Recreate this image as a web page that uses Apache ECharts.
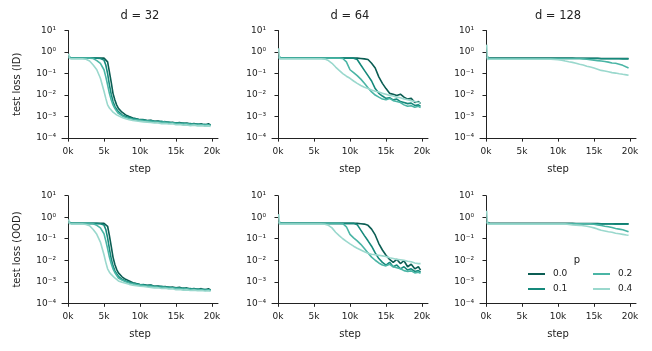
<!DOCTYPE html>
<html>
<head>
<meta charset="utf-8">
<script src="https://cdn.jsdelivr.net/npm/echarts@6/dist/echarts.min.js"></script>
<style>
html, body { margin: 0; padding: 0; background: #fff; }
#chart { width: 652px; height: 351px; }
</style>
</head>
<body>
<div id="chart"></div>
<script>
// training steps shared by every curve
const steps = [100, 200, 500, 1000, 1500, 2000, 2500, 3000, 3500, 4000,
  4500, 5000, 5250, 5500, 5750, 6000, 6250, 6500, 6750, 7000,
  7500, 8000, 8500, 9000, 9500, 10000, 10500, 11000, 11500, 12000,
  12500, 13000, 13500, 14000, 14500, 15000, 15500, 16000, 16500, 17000,
  17500, 18000, 18500, 19000, 19500, 19800];

const pLabels = ["0.0", "0.1", "0.2", "0.4"];
const panelTitles = ["d = 32", "d = 64", "d = 128"];
const rowNames = ["test loss (ID)", "test loss (OOD)"];
const xTicks = [0, 5000, 10000, 15000, 20000];
const yTicks = [1e-4, 1e-3, 1e-2, 1e-1, 1, 10];

// ---- d = 32, ID
const d32_id_p00 = [0.6, 0.52, 0.52, 0.52, 0.52, 0.52, 0.52, 0.52, 0.52, 0.52,
  0.52, 0.52, 0.5, 0.35, 0.12, 0.04, 0.012, 0.006, 0.0035, 0.0024,
  0.0016, 0.0012, 0.001, 0.00085, 0.0008, 0.00072, 0.0007, 0.00066, 0.00068, 0.0006,
  0.00062, 0.00056, 0.00058, 0.00052, 0.00055, 0.0005, 0.00053, 0.00047, 0.0005, 0.00045,
  0.00047, 0.00043, 0.00046, 0.0004, 0.00046, 0.00041];
const d32_id_p01 = [0.55, 0.52, 0.52, 0.52, 0.52, 0.52, 0.52, 0.52, 0.52, 0.52,
  0.5, 0.42, 0.25, 0.1, 0.03, 0.011, 0.005, 0.003, 0.0022, 0.0017,
  0.0012, 0.001, 0.0009, 0.0008, 0.00078, 0.0007, 0.00072, 0.00064, 0.00066, 0.0006,
  0.00058, 0.0006, 0.00054, 0.00056, 0.0005, 0.00052, 0.00048, 0.0005, 0.00046, 0.00048,
  0.00044, 0.00045, 0.00042, 0.00044, 0.0004, 0.00042];
const d32_id_p02 = [0.6, 0.52, 0.52, 0.52, 0.52, 0.52, 0.52, 0.52, 0.5, 0.4,
  0.3, 0.15, 0.07, 0.03, 0.012, 0.006, 0.0035, 0.0024, 0.0018, 0.0014,
  0.0011, 0.0009, 0.00082, 0.00075, 0.0007, 0.00068, 0.00064, 0.00062, 0.0006, 0.00058,
  0.00056, 0.00054, 0.00055, 0.0005, 0.00052, 0.00048, 0.00049, 0.00045, 0.00047, 0.00043,
  0.00044, 0.00041, 0.00043, 0.0004, 0.00041, 0.00039];
const d32_id_p04 = [0.85, 0.5, 0.48, 0.48, 0.48, 0.48, 0.46, 0.38, 0.25, 0.15,
  0.06, 0.015, 0.007, 0.0035, 0.0025, 0.002, 0.0016, 0.0014, 0.0012, 0.001,
  0.0009, 0.0008, 0.00072, 0.00066, 0.00062, 0.0006, 0.00057, 0.00055, 0.00053, 0.0005,
  0.00051, 0.00047, 0.00048, 0.00045, 0.00046, 0.00042, 0.00043, 0.0004, 0.00041, 0.00038,
  0.0004, 0.00037, 0.00038, 0.00036, 0.00037, 0.00035];

// ---- d = 32, OOD
const d32_ood_p00 = [0.6, 0.52, 0.52, 0.52, 0.52, 0.52, 0.52, 0.52, 0.52, 0.52,
  0.52, 0.52, 0.5, 0.38, 0.14, 0.045, 0.014, 0.0065, 0.0038, 0.0026,
  0.0017, 0.0013, 0.0011, 0.0009, 0.00082, 0.00075, 0.00072, 0.00068, 0.0007, 0.00062,
  0.00064, 0.00058, 0.0006, 0.00054, 0.00057, 0.00052, 0.00055, 0.00048, 0.00052, 0.00046,
  0.00049, 0.00044, 0.00048, 0.00041, 0.00047, 0.00042];
const d32_ood_p01 = [0.55, 0.52, 0.52, 0.52, 0.52, 0.52, 0.52, 0.52, 0.52, 0.52,
  0.5, 0.43, 0.27, 0.11, 0.035, 0.012, 0.0055, 0.0033, 0.0024, 0.0018,
  0.0013, 0.0011, 0.00095, 0.00085, 0.0008, 0.00072, 0.00074, 0.00066, 0.00068, 0.00061,
  0.0006, 0.00062, 0.00055, 0.00057, 0.00051, 0.00053, 0.00049, 0.00051, 0.00047, 0.00049,
  0.00045, 0.00046, 0.00043, 0.00045, 0.00041, 0.00043];
const d32_ood_p02 = [0.6, 0.52, 0.52, 0.52, 0.52, 0.52, 0.52, 0.52, 0.5, 0.42,
  0.32, 0.17, 0.08, 0.035, 0.014, 0.007, 0.004, 0.0027, 0.002, 0.0015,
  0.0012, 0.001, 0.00088, 0.0008, 0.00074, 0.0007, 0.00066, 0.00064, 0.00062, 0.0006,
  0.00057, 0.00055, 0.00056, 0.00051, 0.00053, 0.00049, 0.0005, 0.00046, 0.00048, 0.00044,
  0.00045, 0.00042, 0.00044, 0.0004, 0.00042, 0.0004];
const d32_ood_p04 = [0.8, 0.5, 0.48, 0.48, 0.48, 0.48, 0.46, 0.4, 0.27, 0.16,
  0.07, 0.018, 0.008, 0.004, 0.0028, 0.0022, 0.0018, 0.0015, 0.0013, 0.0011,
  0.00095, 0.00085, 0.00076, 0.0007, 0.00065, 0.00062, 0.0006, 0.00057, 0.00055, 0.00052,
  0.00053, 0.00049, 0.0005, 0.00046, 0.00047, 0.00043, 0.00044, 0.00041, 0.00042, 0.00039,
  0.00041, 0.00038, 0.00039, 0.00037, 0.00038, 0.00036];

// ---- d = 64, ID
const d64_id_p00 = [0.6, 0.52, 0.52, 0.52, 0.52, 0.52, 0.52, 0.52, 0.52, 0.52,
  0.52, 0.52, 0.52, 0.52, 0.52, 0.52, 0.52, 0.52, 0.52, 0.52,
  0.52, 0.52, 0.52, 0.52, 0.52, 0.52, 0.52, 0.52, 0.5, 0.48,
  0.45, 0.3, 0.18, 0.07, 0.035, 0.02, 0.012, 0.011, 0.0095, 0.011,
  0.008, 0.0065, 0.007, 0.0045, 0.005, 0.004];
const d64_id_p01 = [0.55, 0.52, 0.52, 0.52, 0.52, 0.52, 0.52, 0.52, 0.52, 0.52,
  0.52, 0.52, 0.52, 0.52, 0.52, 0.52, 0.52, 0.52, 0.52, 0.52,
  0.52, 0.52, 0.52, 0.52, 0.52, 0.52, 0.52, 0.45, 0.25, 0.14,
  0.08, 0.045, 0.02, 0.012, 0.009, 0.007, 0.0075, 0.006, 0.0065, 0.005,
  0.0045, 0.004, 0.0042, 0.0033, 0.0035, 0.003];
const d64_id_p02 = [0.6, 0.52, 0.52, 0.52, 0.52, 0.52, 0.52, 0.52, 0.52, 0.52,
  0.52, 0.52, 0.52, 0.52, 0.52, 0.52, 0.52, 0.52, 0.52, 0.52,
  0.52, 0.52, 0.52, 0.5, 0.35, 0.15, 0.11, 0.08, 0.055, 0.035,
  0.022, 0.014, 0.01, 0.008, 0.0065, 0.006, 0.007, 0.0055, 0.005, 0.0045,
  0.0035, 0.003, 0.0032, 0.0027, 0.003, 0.0026];
const d64_id_p04 = [1.5, 0.48, 0.48, 0.48, 0.48, 0.48, 0.48, 0.48, 0.48, 0.48,
  0.48, 0.48, 0.48, 0.48, 0.48, 0.48, 0.48, 0.47, 0.44, 0.4,
  0.3, 0.2, 0.14, 0.1, 0.075, 0.06, 0.045, 0.035, 0.028, 0.023,
  0.02, 0.017, 0.015, 0.014, 0.012, 0.011, 0.0095, 0.009, 0.008, 0.0075,
  0.0065, 0.006, 0.0055, 0.005, 0.0045, 0.0042];

// ---- d = 64, OOD
const d64_ood_p00 = [0.6, 0.52, 0.52, 0.52, 0.52, 0.52, 0.52, 0.52, 0.52, 0.52,
  0.52, 0.52, 0.52, 0.52, 0.52, 0.52, 0.52, 0.52, 0.52, 0.52,
  0.52, 0.52, 0.52, 0.52, 0.52, 0.52, 0.52, 0.52, 0.5, 0.48,
  0.42, 0.28, 0.15, 0.06, 0.03, 0.017, 0.011, 0.008, 0.011, 0.007,
  0.0095, 0.005, 0.0065, 0.004, 0.005, 0.0035];
const d64_ood_p01 = [0.55, 0.52, 0.52, 0.52, 0.52, 0.52, 0.52, 0.52, 0.52, 0.52,
  0.52, 0.52, 0.52, 0.52, 0.52, 0.52, 0.52, 0.52, 0.52, 0.52,
  0.52, 0.52, 0.52, 0.52, 0.52, 0.52, 0.52, 0.45, 0.25, 0.14,
  0.08, 0.045, 0.022, 0.012, 0.008, 0.006, 0.008, 0.005, 0.006, 0.004,
  0.005, 0.0035, 0.004, 0.003, 0.0033, 0.0028];
const d64_ood_p02 = [0.6, 0.52, 0.52, 0.52, 0.52, 0.52, 0.52, 0.52, 0.52, 0.52,
  0.52, 0.52, 0.52, 0.52, 0.52, 0.52, 0.52, 0.52, 0.52, 0.52,
  0.52, 0.52, 0.52, 0.5, 0.36, 0.16, 0.11, 0.08, 0.055, 0.035,
  0.022, 0.014, 0.01, 0.0075, 0.006, 0.0055, 0.0065, 0.005, 0.0045, 0.004,
  0.0033, 0.003, 0.0032, 0.0026, 0.0028, 0.0025];
const d64_ood_p04 = [1.4, 0.48, 0.48, 0.48, 0.48, 0.48, 0.48, 0.48, 0.48, 0.48,
  0.48, 0.48, 0.48, 0.48, 0.48, 0.48, 0.48, 0.47, 0.44, 0.42,
  0.32, 0.2, 0.14, 0.1, 0.075, 0.058, 0.045, 0.036, 0.03, 0.025,
  0.021, 0.019, 0.018, 0.017, 0.016, 0.015, 0.013, 0.012, 0.011, 0.0105,
  0.01, 0.009, 0.0085, 0.0075, 0.007, 0.007];

// ---- d = 128, ID
const d128_id_p00 = [0.6, 0.52, 0.52, 0.52, 0.52, 0.52, 0.52, 0.52, 0.52, 0.52,
  0.52, 0.52, 0.52, 0.52, 0.52, 0.52, 0.52, 0.52, 0.52, 0.52,
  0.52, 0.52, 0.52, 0.52, 0.52, 0.52, 0.52, 0.52, 0.52, 0.52,
  0.51, 0.51, 0.51, 0.51, 0.51, 0.51, 0.51, 0.5, 0.5, 0.5,
  0.5, 0.5, 0.5, 0.5, 0.5, 0.5];
const d128_id_p01 = [0.55, 0.5, 0.5, 0.5, 0.5, 0.5, 0.5, 0.5, 0.5, 0.5,
  0.5, 0.5, 0.5, 0.5, 0.5, 0.5, 0.5, 0.5, 0.5, 0.5,
  0.5, 0.5, 0.5, 0.5, 0.5, 0.5, 0.5, 0.5, 0.5, 0.5,
  0.5, 0.5, 0.5, 0.5, 0.5, 0.5, 0.5, 0.49, 0.49, 0.49,
  0.49, 0.49, 0.49, 0.48, 0.48, 0.48];
const d128_id_p02 = [0.6, 0.5, 0.5, 0.5, 0.5, 0.5, 0.5, 0.5, 0.5, 0.5,
  0.5, 0.5, 0.5, 0.5, 0.5, 0.5, 0.5, 0.5, 0.5, 0.5,
  0.5, 0.5, 0.5, 0.5, 0.5, 0.5, 0.5, 0.5, 0.5, 0.5,
  0.5, 0.5, 0.48, 0.46, 0.44, 0.42, 0.4, 0.38, 0.36, 0.34,
  0.31, 0.3, 0.27, 0.24, 0.2, 0.18];
const d128_id_p04 = [2.2, 0.45, 0.46, 0.46, 0.46, 0.46, 0.46, 0.46, 0.46, 0.46,
  0.46, 0.46, 0.46, 0.46, 0.46, 0.46, 0.46, 0.46, 0.46, 0.46,
  0.46, 0.46, 0.46, 0.46, 0.45, 0.44, 0.42, 0.38, 0.35, 0.33,
  0.3, 0.27, 0.25, 0.22, 0.2, 0.18, 0.16, 0.14, 0.13, 0.12,
  0.11, 0.105, 0.098, 0.092, 0.087, 0.083];

// ---- d = 128, OOD
const d128_ood_p00 = [0.6, 0.52, 0.52, 0.52, 0.52, 0.52, 0.52, 0.52, 0.52, 0.52,
  0.52, 0.52, 0.52, 0.52, 0.52, 0.52, 0.52, 0.52, 0.52, 0.52,
  0.52, 0.52, 0.52, 0.52, 0.52, 0.52, 0.52, 0.52, 0.52, 0.52,
  0.51, 0.51, 0.51, 0.51, 0.51, 0.51, 0.51, 0.5, 0.5, 0.5,
  0.5, 0.5, 0.5, 0.5, 0.5, 0.5];
const d128_ood_p01 = [0.55, 0.5, 0.5, 0.5, 0.5, 0.5, 0.5, 0.5, 0.5, 0.5,
  0.5, 0.5, 0.5, 0.5, 0.5, 0.5, 0.5, 0.5, 0.5, 0.5,
  0.5, 0.5, 0.5, 0.5, 0.5, 0.5, 0.5, 0.5, 0.5, 0.5,
  0.5, 0.5, 0.5, 0.5, 0.5, 0.5, 0.49, 0.49, 0.49, 0.49,
  0.49, 0.48, 0.48, 0.48, 0.48, 0.48];
const d128_ood_p02 = [0.6, 0.5, 0.5, 0.5, 0.5, 0.5, 0.5, 0.5, 0.5, 0.5,
  0.5, 0.5, 0.5, 0.5, 0.5, 0.5, 0.5, 0.5, 0.5, 0.5,
  0.5, 0.5, 0.5, 0.5, 0.5, 0.5, 0.5, 0.5, 0.5, 0.5,
  0.5, 0.5, 0.5, 0.5, 0.5, 0.47, 0.44, 0.41, 0.38, 0.36,
  0.33, 0.3, 0.28, 0.26, 0.23, 0.21];
const d128_ood_p04 = [2.0, 0.48, 0.48, 0.48, 0.48, 0.48, 0.48, 0.48, 0.48, 0.48,
  0.48, 0.48, 0.48, 0.48, 0.48, 0.48, 0.48, 0.48, 0.48, 0.48,
  0.48, 0.48, 0.48, 0.48, 0.48, 0.48, 0.48, 0.48, 0.46, 0.44,
  0.43, 0.42, 0.4, 0.38, 0.35, 0.32, 0.28, 0.25, 0.23, 0.21,
  0.2, 0.18, 0.17, 0.16, 0.15, 0.145];

const colors = ["#0b5d53", "#15897b", "#4ab5a5", "#9ad8cd"];
const font = "DejaVu Sans";

// [row][col] -> four curves in p order
const panels = [
  [[d32_id_p00, d32_id_p01, d32_id_p02, d32_id_p04],
   [d64_id_p00, d64_id_p01, d64_id_p02, d64_id_p04],
   [d128_id_p00, d128_id_p01, d128_id_p02, d128_id_p04]],
  [[d32_ood_p00, d32_ood_p01, d32_ood_p02, d32_ood_p04],
   [d64_ood_p00, d64_ood_p01, d64_ood_p02, d64_ood_p04],
   [d128_ood_p00, d128_ood_p01, d128_ood_p02, d128_ood_p04]]
];

const gridLefts = [62, 272, 480];
const gridTops = [30.5, 195.7];
const gridW = 156, gridH = 107.6;

const supMap = { "-": "\u207B", "0": "\u2070", "1": "\u00B9", "2": "\u00B2", "3": "\u00B3", "4": "\u2074" };
const logLabel = v => "10" + String(Math.round(Math.log10(v))).split("").map(c => supMap[c]).join("");

const grids = [], xAxes = [], yAxes = [], series = [], titles = [];

panels.forEach((row, r) => {
  row.forEach((curves, c) => {
    const idx = grids.length;
    grids.push({ left: gridLefts[c], top: gridTops[r], width: gridW, height: gridH });
    xAxes.push({
      type: "value", gridIndex: idx, min: -833, max: 20833,
      name: "step", nameLocation: "middle", nameGap: 26,
      nameTextStyle: { fontFamily: font, fontSize: 10, color: "#222" },
      axisLine: { lineStyle: { color: "#222", width: 1 } },
      axisTick: { length: 3.5, lineStyle: { color: "#222" }, customValues: xTicks },
      axisLabel: { fontFamily: font, fontSize: 9, color: "#222", margin: 9,
        customValues: xTicks, formatter: v => (v / 1000) + "k" },
      splitLine: { show: false }
    });
    yAxes.push({
      type: "log", logBase: 10, gridIndex: idx, min: 1e-4, max: 10,
      name: c === 0 ? rowNames[r] : "", nameLocation: "middle", nameGap: 40,
      nameTextStyle: { fontFamily: font, fontSize: 10, color: "#222" },
      axisLine: { show: true, lineStyle: { color: "#222", width: 1 } },
      axisTick: { show: true, length: 3.5, lineStyle: { color: "#222" }, customValues: yTicks },
      minorTick: { show: false },
      axisLabel: { fontFamily: font, fontSize: 9, color: "#222", margin: 6,
        customValues: yTicks, formatter: logLabel },
      splitLine: { show: false }
    });
    curves.forEach((vals, k) => {
      series.push({
        name: pLabels[k], type: "line", xAxisIndex: idx, yAxisIndex: idx,
        data: steps.map((s, i) => [s, vals[i]]),
        showSymbol: false, symbol: "none",
        lineStyle: { color: colors[k], width: 1.6 },
        itemStyle: { color: colors[k] },
        z: 2 + k
      });
    });
    if (r === 0) {
      titles.push({
        text: panelTitles[c], left: gridLefts[c] + gridW / 2, top: 10, padding: 0, textAlign: "center",
        textStyle: { fontFamily: font, fontSize: 11.5, fontWeight: "normal", color: "#222" }
      });
    }
  });
});

// legend title
titles.push({
  text: "p", left: 577, top: 255, padding: 0, textAlign: "center",
  textStyle: { fontFamily: font, fontSize: 10, fontWeight: "normal", color: "#222" }
});

const legendBase = {
  orient: "vertical", icon: "rect", itemWidth: 17, itemHeight: 2, itemGap: 5, padding: 0,
  textStyle: { fontFamily: font, fontSize: 9, color: "#222", lineHeight: 10, padding: [0, 0, 0, 3] },
  selectedMode: false
};

const chart = echarts.init(document.getElementById("chart"), null, { renderer: "canvas" });
chart.setOption({
  animation: false,
  backgroundColor: "#fff",
  title: titles,
  legend: [
    Object.assign({}, legendBase, { data: ["0.0", "0.1"], left: 528, top: 269 }),
    Object.assign({}, legendBase, { data: ["0.2", "0.4"], left: 593, top: 269 })
  ],
  grid: grids,
  xAxis: xAxes,
  yAxis: yAxes,
  series: series
});
</script>
</body>
</html>
